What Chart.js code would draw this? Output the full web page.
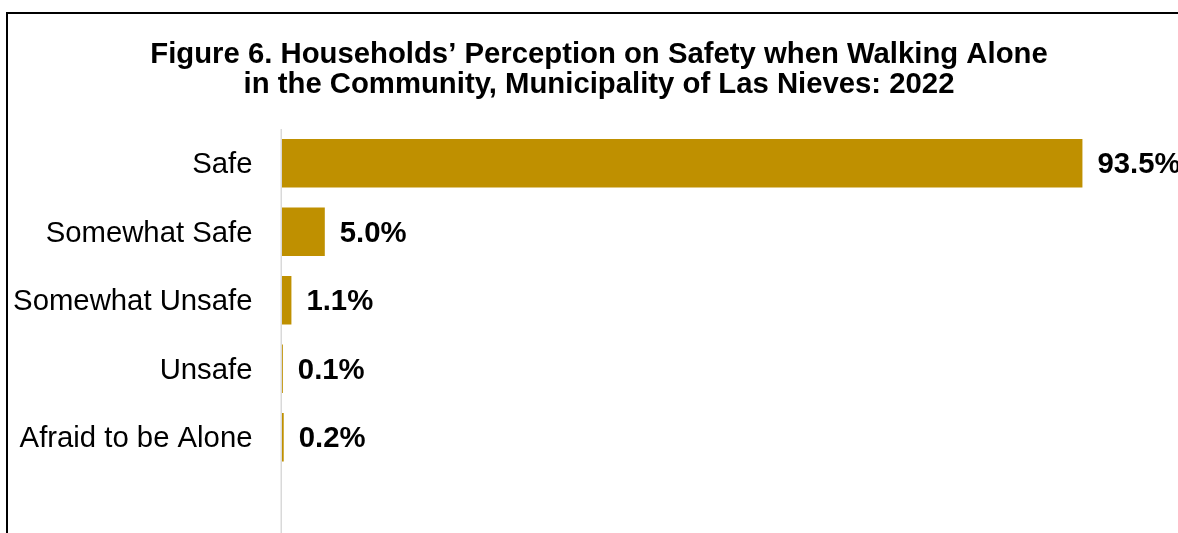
<!DOCTYPE html>
<html><head><meta charset="utf-8">
<style>
html,body{margin:0;padding:0;background:#fff;overflow:hidden;width:1178px;height:533px;}
#frame{position:absolute;left:6px;top:12px;width:1400px;height:800px;border-left:2px solid #000;border-top:2px solid #000;}
#c{position:absolute;left:0;top:0;}
</style>
<script src="https://cdn.jsdelivr.net/npm/chart.js@4.4.0/dist/chart.umd.min.js"></script>
</head><body>
<div id="frame"></div>
<canvas id="c" width="1198" height="533"></canvas>
<script>
const categories = ['Safe', 'Somewhat Safe', 'Somewhat Unsafe', 'Unsafe', 'Afraid to be Alone'];
const percentages = [93.5, 5.0, 1.1, 0.1, 0.2];
const titleLines = ['Figure 6. Households\u2019 Perception on Safety when Walking Alone', 'in the Community, Municipality of Las Nieves: 2022'];

const FONT = '"Liberation Sans", Arial, sans-serif';
const BAR_COLOR = '#BF9000';

const axisLine = {
  id: 'axisLine',
  beforeDatasetsDraw(chart) {
    const ctx = chart.ctx, a = chart.chartArea;
    const x = chart.scales.x.getPixelForValue(0) - 0.75;
    ctx.save();
    ctx.strokeStyle = '#d9d9d9';
    ctx.lineWidth = 1.5;
    ctx.beginPath();
    ctx.moveTo(x, a.top);
    ctx.lineTo(x, chart.height);
    ctx.stroke();
    ctx.restore();
  }
};

const valueLabels = {
  id: 'valueLabels',
  afterDatasetsDraw(chart) {
    const ctx = chart.ctx;
    const meta = chart.getDatasetMeta(0);
    ctx.save();
    ctx.font = 'bold 29.3px ' + FONT;
    ctx.fillStyle = '#000';
    ctx.textAlign = 'left';
    ctx.textBaseline = 'middle';
    meta.data.forEach((bar, i) => {
      ctx.fillText(percentages[i].toFixed(1) + '%', bar.x + 15, bar.y + 2);
    });
    ctx.restore();
  }
};

new Chart(document.getElementById('c'), {
  type: 'bar',
  data: {
    labels: categories,
    datasets: [{
      data: percentages,
      backgroundColor: BAR_COLOR,
      borderWidth: 0,
      barPercentage: 0.71,
      categoryPercentage: 1.0
    }]
  },
  options: {
    indexAxis: 'y',
    responsive: false,
    animation: false,
    devicePixelRatio: 1,
    layout: { padding: { left: 0, right: 0, top: 0, bottom: 61.5 } },
    plugins: {
      legend: { display: false },
      tooltip: { enabled: false },
      title: {
        display: true,
        text: titleLines,
        color: '#000',
        font: { family: FONT, size: 29.3, weight: 'bold', lineHeight: 1.0 },
        padding: { top: 40.6, bottom: 29.8 }
      }
    },
    scales: {
      x: { display: false, min: 0, max: 107 },
      y: {
        afterFit(s) { s.width = 282; },
        grid: { display: false },
        border: { display: false },
        ticks: { color: '#000', font: { family: FONT, size: 29.3 }, padding: 21.5, labelOffset: 2 }
      }
    }
  },
  plugins: [axisLine, valueLabels]
});
</script>
</body></html>
